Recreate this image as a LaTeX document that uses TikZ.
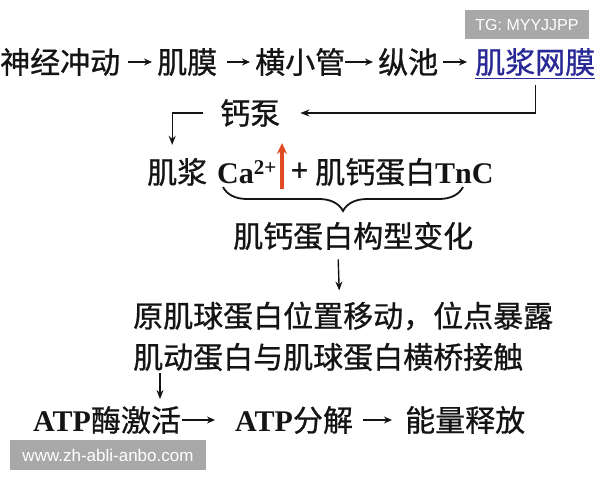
\documentclass[tikz,border=0pt]{standalone}
\usepackage{fontspec}
\usetikzlibrary{arrows.meta,decorations.pathreplacing}
\newfontfamily\cjkf{Noto Sans CJK SC}[FakeBold=0.8]
\newfontfamily\tmsf{Liberation Serif}
\newfontfamily\arialf{Liberation Sans}
\definecolor{txtblack}{RGB}{20,20,20}
\definecolor{linkblue}{RGB}{40,40,150}
\definecolor{redarrow}{RGB}{225,75,35}
\definecolor{wmgray}{RGB}{168,168,168}
\newcommand{\latb}[1]{{\tmsf\bfseries #1}}
\begin{document}
\begin{tikzpicture}[x=1pt,y=-1pt,
  txt/.style={inner sep=0pt,anchor=west,text=txtblack,font=\cjkf\fontsize{30}{30}\selectfont},
  arr/.style={draw=txtblack,line width=1.6pt,-{Stealth[length=8pt,width=7pt]}},
  conn/.style={draw=txtblack,line width=1.4pt,-{Stealth[length=9pt,width=7pt]}},
  wm/.style={fill=wmgray,text=white,inner sep=0pt,font=\arialf\fontsize{16}{16}\selectfont}]
\useasboundingbox[fill=white] (0,0) rectangle (600,480);

% watermarks
\node[wm,minimum width=124pt,minimum height=29pt] (tg) at (527,24.5) {TG: MYYJJPP};
\node[wm,minimum width=196pt,minimum height=30pt,font=\arialf\fontsize{17}{17}\selectfont] (www) at (108,455) {www.zh-abli-anbo.com};

% row 1
\node[txt] (n1) at (0,62) {神经冲动};
\node[txt] (n2) at (157,62) {肌膜};
\node[txt] (n3) at (255,62) {横小管};
\node[txt] (n4) at (378,62) {纵池};
\node[txt,text=linkblue] (n5) at (475,62) {肌浆网膜};
\draw[linkblue,line width=1pt] ([yshift=-2pt]n5.south west) -- ([yshift=-2pt]n5.south east);
\draw[arr] ([xshift=8pt]n1.east) -- ([xshift=-5pt]n2.west);
\draw[arr] ([xshift=10pt]n2.east) -- ([xshift=-5pt]n3.west);
\draw[arr] ([xshift=0pt]n3.east) -- ([xshift=-5pt]n4.west);
\draw[arr] ([xshift=5pt]n4.east) -- ([xshift=-8pt]n5.west);

% pump
\node[txt] (pump) at (220,113) {钙泵};
\draw[conn] ([yshift=-9pt]n5.south) |- ([xshift=20pt]pump.east);

% row 3
\node[txt] (jj) at (147,172) {肌浆};
\node[txt] (ca) at (217,172) {\latb{Ca\textsuperscript{2+}}};
\node[txt] (plus) at (291,172) {+};
\node[txt] (tnc) at (315,172) {肌钙蛋白\latb{TnC}};
\draw[conn] ([xshift=-17pt]pump.west) -| ([xshift=-5pt,yshift=13pt]jj.north);
\coordinate (r1) at (282,189);
\coordinate (r2) at (282,143);
\draw[draw=redarrow,line width=3.4pt,-{Stealth[length=11pt,width=10pt]}] (r1) -- (r2);

% brace
\coordinate (b1) at (223,187);
\coordinate (b2) at (463,187);
\draw[txtblack,line width=1.8pt,decorate,decoration={brace,mirror,amplitude=24pt,aspect=0.5}] (b1) -- (b2);

\node[txt] (mat) at (233,236) {肌钙蛋白构型变化};

% lines
\node[txt] (l1) at (133,316) {原肌球蛋白位置移动，位点暴露};
\node[txt] (l2) at (133,357) {肌动蛋白与肌球蛋白横桥接触};
\draw[conn] ([xshift=-15pt,yshift=-9pt]mat.south) -- ([xshift=-4pt,yshift=11pt]l1.north);

% ATP row
\node[txt] (atp1) at (33,420) {\latb{ATP}酶激活};
\node[txt] (atp2) at (235,420) {\latb{ATP}分解};
\node[txt] (en) at (405,420) {能量释放};
\draw[conn] ([xshift=27pt,yshift=-2pt]l2.south west) -- ([xshift=127pt,yshift=7pt]atp1.north west);
\draw[arr] ([xshift=1pt]atp1.east) -- ([xshift=-20pt]atp2.west);
\draw[arr] ([xshift=10pt]atp2.east) -- ([xshift=-13pt]en.west);
\end{tikzpicture}
\end{document}
